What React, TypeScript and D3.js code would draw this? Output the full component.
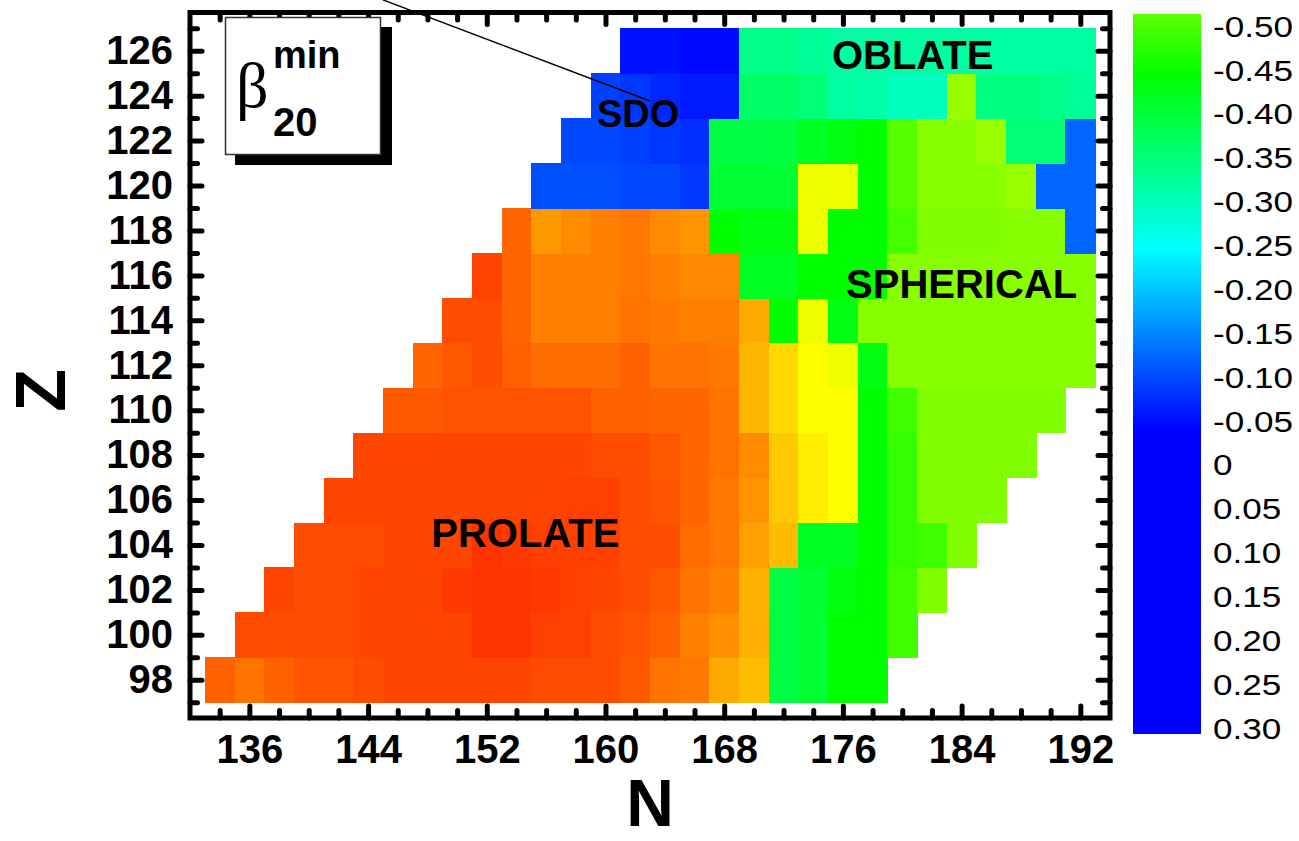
import React, { useEffect, useRef } from 'react'
import * as d3 from 'd3'

// beta20 at the minimum, one array per proton row Z, starting at neutron number nStart
const zRows = [98, 100, 102, 104, 106, 108, 110, 112, 114, 116, 118, 120, 122, 124, 126]
const nStart = [134, 136, 138, 140, 142, 144, 146, 148, 150, 152, 154, 156, 158, 160, 162]

const beta098 = [0.225, 0.21, 0.225, 0.233, 0.233, 0.24, 0.245, 0.245, 0.245, 0.245, 0.245, 0.24, 0.24, 0.24, 0.23, 0.21, 0.205, 0.167, 0.15, -0.153, -0.14, -0.1, -0.1]
const beta100 = [0.24, 0.24, 0.24, 0.24, 0.245, 0.245, 0.245, 0.245, 0.26, 0.26, 0.25, 0.25, 0.24, 0.233, 0.225, 0.2, 0.187, 0.162, -0.153, -0.14, -0.1, -0.1, -0.05]
const beta102 = [0.245, 0.24, 0.24, 0.245, 0.245, 0.245, 0.255, 0.26, 0.26, 0.255, 0.25, 0.245, 0.24, 0.23, 0.21, 0.2, 0.16, -0.153, -0.14, -0.11, -0.1, -0.05, 0.0]
const beta104 = [0.24, 0.24, 0.24, 0.245, 0.245, 0.245, 0.26, 0.255, 0.25, 0.25, 0.25, 0.24, 0.24, 0.215, 0.207, 0.175, 0.153, -0.127, -0.125, -0.1, -0.06, -0.05, 0.0]
const beta106 = [0.245, 0.245, 0.245, 0.245, 0.245, 0.245, 0.245, 0.245, 0.25, 0.25, 0.24, 0.233, 0.22, 0.205, 0.185, 0.143, 0.113, 0.1, -0.1, -0.06, 0.0, 0.0, 0.0]
const beta108 = [0.245, 0.245, 0.245, 0.245, 0.245, 0.245, 0.245, 0.245, 0.24, 0.24, 0.23, 0.22, 0.21, 0.19, 0.143, 0.113, 0.1, -0.1, -0.06, 0.0, 0.0, 0.0, 0.0]
const beta110 = [0.23, 0.23, 0.235, 0.235, 0.235, 0.235, 0.235, 0.225, 0.225, 0.22, 0.22, 0.21, 0.157, 0.13, 0.1, 0.1, -0.1, -0.05, 0.0, 0.0, 0.0, 0.0, 0.0]
const beta112 = [0.22, 0.23, 0.24, 0.225, 0.215, 0.215, 0.215, 0.225, 0.21, 0.21, 0.205, 0.157, 0.13, 0.1, 0.087, -0.113, 0.007, 0.007, 0.007, 0.007, 0.007, 0.007, 0.007]
const beta114 = [0.24, 0.24, 0.22, 0.2, 0.2, 0.2, 0.21, 0.205, 0.2, 0.2, 0.167, -0.1, 0.087, -0.113, 0.007, 0.007, 0.007, 0.007, 0.007, 0.007, 0.007, 0.007]
const beta116 = [0.247, 0.22, 0.2, 0.2, 0.2, 0.207, 0.2, 0.193, 0.193, -0.127, -0.127, -0.1, -0.1, -0.1, 0.007, 0.007, 0.007, 0.007, 0.007, 0.007, 0.007]
const beta118 = [0.22, 0.18, 0.19, 0.2, 0.207, 0.19, 0.183, -0.1, -0.113, -0.113, 0.087, -0.1, -0.1, -0.047, 0.0, 0.0, 0.0, 0.007, 0.007, -0.42]
const beta120 = [-0.437, -0.437, -0.437, -0.443, -0.443, -0.457, -0.14, -0.14, -0.14, 0.087, 0.087, -0.1, -0.033, 0.007, 0.007, 0.007, 0.02, -0.42, -0.42]
const beta122 = [-0.443, -0.443, -0.45, -0.457, -0.463, -0.153, -0.153, -0.15, -0.127, -0.113, -0.1, -0.033, 0.007, 0.007, 0.02, -0.193, -0.193, -0.42]
const beta124 = [-0.45, -0.457, -0.47, -0.48, -0.48, -0.18, -0.18, -0.193, -0.227, -0.233, -0.25, -0.25, 0.02, -0.2, -0.2, -0.207, -0.22]
const beta126 = [-0.487, -0.487, -0.493, -0.493, -0.207, -0.207, -0.22, -0.227, -0.227, -0.227, -0.227, -0.227, -0.227, -0.227, -0.227, -0.227]

const betaRows = [beta098, beta100, beta102, beta104, beta106, beta108, beta110, beta112, beta114, beta116, beta118, beta120, beta122, beta124, beta126]

const xMajor = [136, 144, 152, 160, 168, 176, 184, 192]
const yMajor = [98, 100, 102, 104, 106, 108, 110, 112, 114, 116, 118, 120, 122, 124, 126]
const cbTicks = [-0.5, -0.45, -0.4, -0.35, -0.3, -0.25, -0.2, -0.15, -0.1, -0.05, 0, 0.05, 0.1, 0.15, 0.2, 0.25, 0.3]

const regionLabels = [
  { text: 'SDO', n: 162.2, z: 122.6, size: 38 },
  { text: 'OBLATE', n: 180.7, z: 125.2, size: 40 },
  { text: 'SPHERICAL', n: 184.0, z: 115.0, size: 40 },
  { text: 'PROLATE', n: 154.6, z: 103.9, size: 40 },
]

const sans = "'Liberation Sans', Arial, Helvetica, sans-serif"

const App = () => {
  const ref = useRef<SVGSVGElement>(null)

  useEffect(() => {
    const svg = d3.select(ref.current)
    svg.selectAll('*').remove()

    const x = d3.scaleLinear().domain([132, 194]).range([190, 1110])
    const y = d3.scaleLinear().domain([96.3, 127.7]).range([718, 12.5])
    const hue = d3.scaleLinear().domain([-0.5, 0.3]).range([240, 0]).clamp(true)
    const color = (b: number) => d3.hsl(hue(b), 1, 0.5).formatHex()

    const cells = zRows.flatMap((z, r) =>
      betaRows[r].map((b, i) => ({ z, n: nStart[r] + 2 * i, b })),
    )

    svg // cells
      .append('g')
      .attr('shape-rendering', 'crispEdges')
      .selectAll('rect')
      .data(cells)
      .join('rect')
      .attr('x', d => x(d.n - 1))
      .attr('y', d => y(d.z + 1))
      .attr('width', d => x(d.n + 1) - x(d.n - 1) + 0.7)
      .attr('height', d => y(d.z - 1) - y(d.z + 1) + 0.7)
      .attr('fill', d => color(d.b))

    const styleAxis = (g: any) => {
      g.select('.domain').remove()
      g.selectAll('line')
        .attr('stroke', '#000')
        .attr('stroke-width', 5)
        .attr('stroke-linecap', 'round')
      g.selectAll('text')
        .attr('font-family', sans)
        .attr('font-weight', 'bold')
        .attr('font-size', 40)
        .attr('fill', '#000')
    }

    const xMinor = d3.range(134, 193, 2).filter(v => !xMajor.includes(v))
    const yMinor = d3.range(97, 128, 2)
    const [x0, x1] = x.range()
    const [y0, y1] = y.range()

    // bottom / top
    svg.append('g').attr('transform', `translate(0,${y0})`)
      .call(d3.axisBottom(x).tickValues(xMajor).tickSize(-12).tickPadding(17)).call(styleAxis)
    svg.append('g').attr('transform', `translate(0,${y0})`)
      .call(d3.axisBottom(x).tickValues(xMinor).tickSize(-7.5).tickFormat(() => '')).call(styleAxis)
    svg.append('g').attr('transform', `translate(0,${y1})`)
      .call(d3.axisTop(x).tickValues(xMajor).tickSize(-12).tickFormat(() => '')).call(styleAxis)
    svg.append('g').attr('transform', `translate(0,${y1})`)
      .call(d3.axisTop(x).tickValues(xMinor).tickSize(-7.5).tickFormat(() => '')).call(styleAxis)
    // left / right
    svg.append('g').attr('transform', `translate(${x0},0)`)
      .call(d3.axisLeft(y).tickValues(yMajor).tickSize(-12).tickPadding(17)).call(styleAxis)
    svg.append('g').attr('transform', `translate(${x0},0)`)
      .call(d3.axisLeft(y).tickValues(yMinor).tickSize(-7.5).tickFormat(() => '')).call(styleAxis)
    svg.append('g').attr('transform', `translate(${x1},0)`)
      .call(d3.axisRight(y).tickValues(yMajor).tickSize(-12).tickFormat(() => '')).call(styleAxis)
    svg.append('g').attr('transform', `translate(${x1},0)`)
      .call(d3.axisRight(y).tickValues(yMinor).tickSize(-7.5).tickFormat(() => '')).call(styleAxis)

    svg // frame
      .append('rect')
      .attr('x', x0).attr('y', y1)
      .attr('width', x1 - x0).attr('height', y0 - y1)
      .attr('fill', 'none').attr('stroke', '#000').attr('stroke-width', 5)

    svg // axis titles
      .append('text')
      .attr('x', (x0 + x1) / 2).attr('y', 826)
      .attr('text-anchor', 'middle')
      .attr('font-family', sans).attr('font-weight', 'bold').attr('font-size', 66)
      .text('N')
    svg
      .append('text')
      .attr('transform', `translate(65,${(y0 + y1) / 2 + 25}) rotate(-90)`)
      .attr('text-anchor', 'middle')
      .attr('font-family', sans).attr('font-weight', 'bold').attr('font-size', 70)
      .text('Z')

    svg // region labels
      .append('g')
      .selectAll('text')
      .data(regionLabels)
      .join('text')
      .attr('x', d => x(d.n)).attr('y', d => y(d.z))
      .attr('text-anchor', 'middle')
      .attr('font-family', sans).attr('font-weight', 'bold')
      .attr('font-size', d => d.size)
      .text(d => d.text)

    svg // pointer line
      .append('line')
      .attr('x1', x(145)).attr('y1', y(128.26))
      .attr('x2', x(163)).attr('y2', y(123.76))
      .attr('stroke', '#000').attr('stroke-width', 1.5)

    // legend box with shadow
    const lg = svg.append('g')
    lg.append('rect').attr('x', 235).attr('y', 27).attr('width', 157).attr('height', 138).attr('fill', '#000')
    lg.append('rect').attr('x', 225.5).attr('y', 17.5).attr('width', 155).attr('height', 137)
      .attr('fill', '#fff').attr('stroke', '#333').attr('stroke-width', 1.5)
    lg.append('text').attr('x', 236).attr('y', 107)
      .attr('font-family', "'Liberation Serif', 'Times New Roman', serif").attr('font-size', 64)
      .text('β')
    lg.append('text').attr('x', 273).attr('y', 68)
      .attr('font-family', sans).attr('font-weight', 'bold').attr('font-size', 38)
      .text('min')
    lg.append('text').attr('x', 273).attr('y', 136)
      .attr('font-family', sans).attr('font-weight', 'bold').attr('font-size', 40)
      .text('20')

    // colour bar
    const cb = d3.scaleLinear().domain([-0.5, 0.3]).range([26, 728])
    const barTop = cb(-0.5) - 12
    const barBottom = cb(0.3) + 6
    const stops = [
      { v: -0.514, c: '#5cff00' },
      { v: -0.444, c: '#00ff00' },
      { v: -0.247, c: '#00ffff' },
      { v: -0.04, c: '#0000ff' },
      { v: 0.307, c: '#0000ff' },
    ]
    const grad = svg.append('defs').append('linearGradient')
      .attr('id', 'cbgrad').attr('x1', 0).attr('y1', 0).attr('x2', 0).attr('y2', 1)
    grad.selectAll('stop').data(stops).join('stop')
      .attr('offset', d => Math.max(0, Math.min(1, (cb(d.v) - barTop) / (barBottom - barTop))))
      .attr('stop-color', d => d.c)
    svg.append('rect')
      .attr('x', 1133).attr('y', barTop)
      .attr('width', 68).attr('height', barBottom - barTop)
      .attr('fill', 'url(#cbgrad)')
    svg.append('g')
      .selectAll('text')
      .data(cbTicks)
      .join('text')
      .attr('transform', d => `translate(1213,${cb(d) + 10.7}) scale(1.17,1)`)
      .attr('font-family', sans).attr('font-size', 30)
      .text(d => (d === 0 ? '0' : d.toFixed(2)))
  }, [])

  return (
    <svg
      ref={ref}
      width={1299}
      height={841}
      style={{ position: 'absolute', left: 0, top: 0, background: '#fff' }}
    />
  )
}

export default App
